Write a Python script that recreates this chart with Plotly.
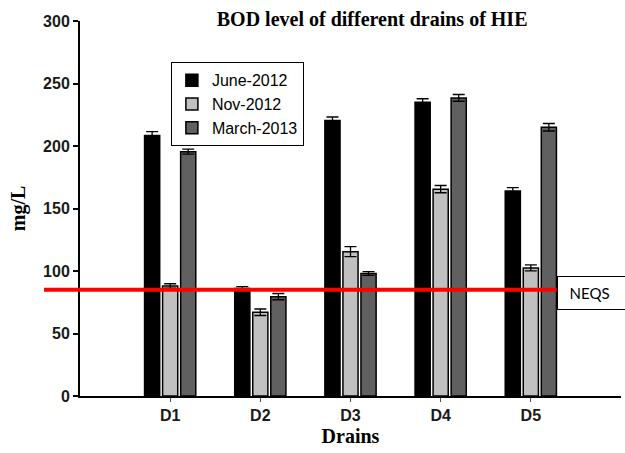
import plotly.graph_objects as go

drains = ["D1", "D2", "D3", "D4", "D5"]
series_names = ["June-2012", "Nov-2012", "March-2013"]
june_2012 = [208.5, 86, 220.5, 235, 164]
nov_2012 = [88, 67, 115.5, 165.5, 102.5]
march_2013 = [195.5, 79.5, 98, 238.5, 215]
june_err = [3, 1.5, 2.7, 2.8, 2.7]
nov_err = [1.8, 2.6, 4, 2.9, 2.4]
march_err = [2, 2.5, 1.5, 2.7, 3]
neqs_value = 85
y_ticks = [0, 50, 100, 150, 200, 250, 300]

colors = ["#000000", "#C0C0C0", "#606060"]
values = [june_2012, nov_2012, march_2013]
errors = [june_err, nov_err, march_err]

fig = go.Figure()
for name, vals, errs, col in zip(series_names, values, errors, colors):
    fig.add_trace(go.Bar(
        x=drains, y=vals, name=name,
        marker=dict(color=col, line=dict(color="#000000", width=1.5)),
        error_y=dict(type="data", array=errs, visible=True, color="#000000",
                     thickness=1.3, width=6),
    ))

fig.update_layout(
    width=625, height=453,
    margin=dict(l=80, r=4, t=21, b=57),
    paper_bgcolor="white", plot_bgcolor="white",
    barmode="group", bargap=0.4, bargroupgap=0.16,
    title=dict(text="<b>BOD level of different drains of HIE</b>",
               font=dict(family="Liberation Serif", size=20, color="black"),
               xref="paper", x=0.54, xanchor="center",
               yref="container", y=0.958, yanchor="middle"),
    legend=dict(x=0.168, y=0.89, xanchor="left", yanchor="top",
                bordercolor="black", borderwidth=1, bgcolor="white",
                font=dict(family="Liberation Sans", size=16, color="black"),
                tracegroupgap=0, itemwidth=30),
    xaxis=dict(type="category", range=[-1, 5], showgrid=False,
               showline=True, linecolor="black", linewidth=2,
               ticks="outside", ticklen=4, tickwidth=1, tickcolor="#555555",
               tickfont=dict(family="Liberation Sans", size=16, color="#1a1a1a",
                             weight="bold"),
               title=dict(text="<b>Drains</b>", standoff=6,
                          font=dict(family="Liberation Serif", size=20, color="black"))),
    yaxis=dict(range=[0, 300], tickvals=y_ticks, showgrid=False, zeroline=False,
               showline=True, linecolor="black", linewidth=2,
               ticks="outside", ticklen=5, tickwidth=2, tickcolor="black",
               tickfont=dict(family="Liberation Sans", size=16, color="#1a1a1a",
                             weight="bold"),
               title=dict(text="<b>mg/L</b>", standoff=12,
                          font=dict(family="Liberation Serif", size=20, color="black"))),
)

fig.add_shape(type="line", xref="paper", yref="y",
              x0=-0.0665, x1=0.881, y0=neqs_value, y1=neqs_value,
              line=dict(color="#FF0000", width=4), layer="above")

fig.add_annotation(xref="paper", yref="y", x=0.881, y=neqs_value,
                   xanchor="left", yanchor="middle", yshift=-3,
                   text="\u00a0\u00a0\u00a0NEQS", showarrow=False,
                   align="left", width=90, height=32, borderpad=0,
                   bordercolor="black", borderwidth=1, bgcolor="white",
                   font=dict(family="Lato", size=15, color="black"))

fig.write_html("out.html")
